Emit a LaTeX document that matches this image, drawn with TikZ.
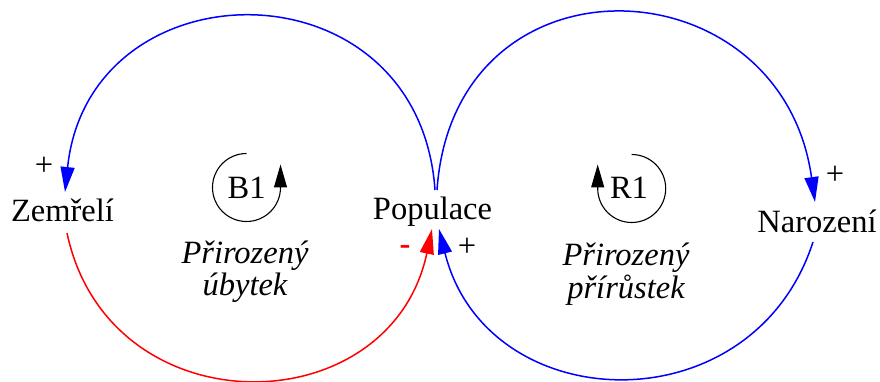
\documentclass[tikz,border=0pt]{standalone}
\usepackage{fontspec}
\setmainfont{Liberation Serif}
\usetikzlibrary{arrows.meta}
\begin{document}
\begin{tikzpicture}[x=0.5pt,y=0.5pt,
  lbl/.style={inner sep=0pt, anchor=base, font=\fontsize{16.25pt}{16.5pt}\selectfont},
  loopname/.style={inner sep=0pt, anchor=base, align=center, font=\fontsize{16.25pt}{16.5pt}\selectfont\itshape},
  link/.style={line width=0.75pt, -{Triangle[length=12.5pt,width=7pt]}},
  loopsym/.style={line width=0.55pt, black, -{Triangle[length=11.5pt,width=6.5pt]}},
  plus/.style={lbl, anchor=center},
]
\useasboundingbox (0,0) rectangle (880,381);

% variables
\node[lbl] (zem) at (62.5,159) {Zemřelí};
\node[lbl] (pop) at (432.5,161.7) {Populace};
\node[lbl] (nar) at (817,148.3) {Narození};

% loop names
\node[loopname] (bname) at (245,85) {Přirozený\\úbytek};
\node[loopname] (rname) at (626,83) {Přirozený\\přírůstek};

% loop identifiers
\node[lbl] (b1) at (246.7,183) {B1};
\node[lbl] (r1) at (629,183) {R1};
\draw[loopsym] (246.5,227.5) arc[start angle=90,end angle=360,radius=34] -- ++(0,23);
\draw[loopsym] (631.7,226.5) arc[start angle=90,end angle=-180,radius=34] -- ++(0,24);

% connector end points
\coordinate (popTL) at (435,191);
\coordinate (popTR) at (437,191);
\coordinate (popBL) at (432,152);
\coordinate (popBR) at (439,152);
\coordinate (zemT) at (65,189);
\coordinate (zemB) at (67,148);
\coordinate (narT) at (815,179);
\coordinate (narB) at (813,139);

% connectors
\draw[link, blue] (popTL) to[out=94,in=84,looseness=1.6] (zemT);
\draw[link, red] (zemB) to[out=-78,in=-102,looseness=1.41] (popBL);
\draw[link, blue] (popTR) to[out=86,in=98,looseness=1.65] (narT);
\draw[link, blue] (narB) to[out=252,in=-76,looseness=1.34] (popBR);

% polarities
\node[plus] (p1) at (44,215) {+};
\node[plus] (p2) at (835,206) {+};
\node[plus] (p3) at (467,134) {+};
\node[plus, red] (m1) at (405,131) {\textbf{-}};
\end{tikzpicture}
\end{document}
